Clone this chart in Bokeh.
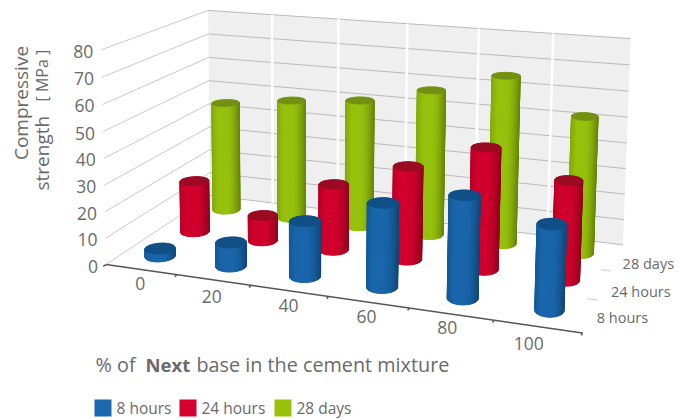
import numpy as np
from bokeh.plotting import figure
from bokeh.models import ColumnDataSource, Range1d
from bokeh.core.properties import value
from bokeh.embed import file_html
from bokeh.resources import INLINE

# ---- data -------------------------------------------------------------
categories = ["0", "20", "40", "60", "80", "100"]
series_names = ["8 hours", "24 hours", "28 days"]
values_8h = [3, 9, 20.5, 30.5, 36.5, 30]
values_24h = [20.5, 10, 25.5, 35.5, 45.5, 36.5]
values_28d = [45, 48.5, 51, 57.5, 65.5, 52.5]
value_ticks = [0, 10, 20, 30, 40, 50, 60, 70, 80]
series_sides = ["#1a66ab", "#d0002d", "#95c00d"]
series_caps = ["#0f4f85", "#9a0a22", "#739012"]
TEXT = "#6a6a6a"
FONT = value("Open Sans")

W, H = 686, 419

# ---- camera: a 3D->screen projection fitted to the scene's frame -------
frame_world = [(0, 0, 0), (0, 0, 80), (0, 3, 80), (0, 3, 0), (6, 3, 80), (6, 3, 0), (6, 0, 0), (6, 0, 80),
               (1, 3, 80), (2, 3, 80), (3, 3, 80), (4, 3, 80), (5, 3, 80),
               (1, 0, 0), (2, 0, 0), (4, 0, 0), (5, 0, 0)]
frame_screen = [(104, 264), (104, 46), (206, 11), (212, 195), (631, 38), (621, 243), (583, 331), (588, 91),
                (270, 15), (337, 19), (406, 23), (480, 28), (554, 32),
                (176, 275), (250, 285), (409, 308), (494, 321)]


def fit_camera(world, screen):
    rows = []
    for (x, d, v), (u, w) in zip(world, screen):
        P = [x, d, v / 20, 1]
        rows.append(P + [0, 0, 0, 0] + [-u / 100 * c for c in P])
        rows.append([0, 0, 0, 0] + P + [-w / 100 * c for c in P])
    return np.linalg.svd(np.array(rows, float))[2][-1].reshape(3, 4)


CAM = fit_camera(frame_world, frame_screen)


def project(x, d, v):
    x, d, v = np.broadcast_arrays(np.asarray(x, float), np.asarray(d, float), np.asarray(v, float))
    P = np.stack([x, d, v / 20, np.ones_like(x)])
    a, b, c = CAM @ P
    return 100 * a / c, 100 * b / c


p = figure(width=W, height=H, x_range=Range1d(0, W), y_range=Range1d(H, 0),
           output_backend="svg", toolbar_location=None, x_axis_location=None, y_axis_location=None,
           min_border=0, outline_line_color=None, background_fill_color="white",
           border_fill_color="white")
p.grid.visible = False


def seg(x0, d0, v0, x1, d1, v1, color, width):
    a = project(x0, d0, v0)
    b = project(x1, d1, v1)
    p.line([float(a[0]), float(b[0])], [float(a[1]), float(b[1])], line_color=color, line_width=width)


# ---- walls -------------------------------------------------------------
wx, wy = project([0, 6, 6, 0], 3, [0, 0, 80, 80])
p.patch(wx.tolist(), wy.tolist(), fill_color="#efefef", line_color=None)
for t in value_ticks:
    seg(0, 3, t, 6, 3, t, "#b9b9b9", 1)
    seg(0, 0, t, 0, 3, t, "#c9c9c9", 1)
for i in range(1, 6):
    seg(i, 3, 0, i, 3, 80, "white", 2.5)

# ---- front and depth axes ----------------------------------------------
seg(0, 0, 0, 6, 0, 0, "#555555", 1.5)
for i in range(7):
    seg(i, 0, 0, i, -0.07, 0, "#555555", 1.5)
for j in (1, 2):
    seg(5.88, j, 0, 6.0, j, 0, "#cccccc", 1)

# ---- cylinders ---------------------------------------------------------
column_center = [0.5, 1.5, 2.5, 3.5, 4.5, 5.53]
column_radius = [0.19, 0.19, 0.19, 0.185, 0.18, 0.165]
RD = 0.2
N = 40
ANG = np.linspace(0, 2 * np.pi, N + 1)


def shade(hex_color, f):
    c = np.array([int(hex_color[i:i + 2], 16) for i in (1, 3, 5)], float) * f
    return "#%02x%02x%02x" % tuple(np.clip(c, 0, 255).astype(int))


xs, ys, colors = [], [], []
all_values = [values_8h, values_24h, values_28d]
for j in (2, 1, 0):
    for i, v in enumerate(all_values[j]):
        cx, cd = column_center[i], j + 0.5
        px = cx + column_radius[i] * np.cos(ANG)
        pd = cd + RD * np.sin(ANG)
        bu, bw = project(px, pd, 0)
        tu, tw = project(px, pd, v)
        left, right = bu.min(), bu.max()
        xs.append(bu.tolist())
        ys.append(bw.tolist())
        colors.append(series_sides[j])
        strips = sorted(range(N), key=lambda k: -(pd[k] + pd[k + 1]))
        for k in strips:
            xs.append([bu[k], bu[k + 1], tu[k + 1], tu[k]])
            ys.append([bw[k], bw[k + 1], tw[k + 1], tw[k]])
            u = ((bu[k] + bu[k + 1]) / 2 - left) / (right - left)
            f = 1.0 - 0.12 * max(0, 0.2 - u) / 0.2 - 0.32 * max(0, (u - 0.55) / 0.45) ** 1.6
            colors.append(shade(series_sides[j], f))
        xs.append(tu.tolist())
        ys.append(tw.tolist())
        colors.append(series_caps[j])
src = ColumnDataSource(dict(xs=[list(map(float, a)) for a in xs], ys=[list(map(float, a)) for a in ys], c=colors))
p.patches("xs", "ys", source=src, fill_color="c", line_color="c", line_width=0.8)


# ---- texts -------------------------------------------------------------
def label(x, y, s, size, align="left", base="middle", angle=0.0, style="normal", color=TEXT):
    p.text([x], [y], text=[s], text_font=FONT, text_font_size=f"{size}px", text_color=color,
           text_align=align, text_baseline=base, angle=angle, text_font_style=style)


for t in value_ticks:
    u, w = project(0, 0, t)
    label(float(u) - 8, float(w) + 1.5, str(t), 17.5, align="right")
cat_dx = [-1, -2, -1, -2, -4, -9]
cat_dy = [14, 16, 15, 14, 13, 17]
for i, c in enumerate(categories):
    u, w = project(i + 0.5, 0, 0)
    label(float(u) + cat_dx[i], float(w) + cat_dy[i], c, 17.5, align="center")
depth_dx = [6.5, 6.5, 5.5]
depth_dy = [2, 6, 6.5]
for j, s in enumerate(series_names):
    u, w = project(6, j + 0.5, 0)
    label(float(u) + depth_dx[j], float(w) + depth_dy[j], s, 14.5)

label(20, 102.5, "Compressive", 19, align="center", angle=np.pi / 2)
label(41, 190, "strength", 19, align="left", angle=np.pi / 2)
label(41, 101, "[ MPa ]", 16, align="left", angle=np.pi / 2)

label(95, 364, "% of", 19.8)
label(145, 364, "Next", 18.5, style="bold")
label(196, 364, "base in the cement mixture", 19.8)

legend_x = [94, 179, 274]
for lx, s, c in zip(legend_x, series_names, ["#1b68ad", "#d5002c", "#99c10a"]):
    p.quad(left=[lx], right=[lx + 17], top=[399], bottom=[416], fill_color=c, line_color=None)
    label(lx + 22, 407.5, s, 15.5)

open("out.html", "w").write(file_html(p, INLINE))
